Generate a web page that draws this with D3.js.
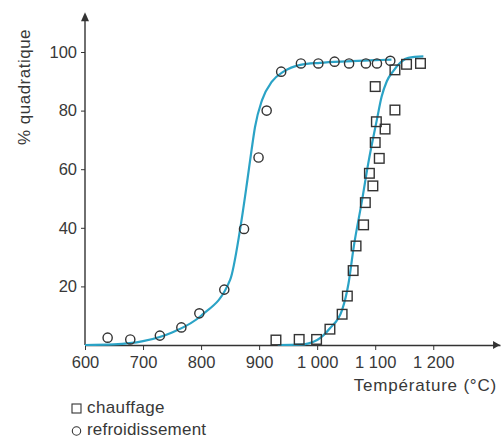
<!doctype html>
<html>
<head>
<meta charset="utf-8">
<style>
  body { margin: 0; background: #fff; }
  svg text { font-family: "Liberation Sans", Arial, sans-serif; fill: #383838; }
</style>
</head>
<body>
<svg width="502" height="441"></svg>
<script src="https://cdn.jsdelivr.net/npm/d3@7"></script>
<script>
// tick values and labels
var xTicks = [600, 700, 800, 900, 1000, 1100, 1200];
var xTickLabels = ["600", "700", "800", "900", "1 000", "1 100", "1 200"];
var yTicks = [20, 40, 60, 80, 100];

// chauffage (squares)
var heatT = [929, 969, 999, 1022, 1043, 1052, 1062, 1067, 1080, 1083, 1090, 1096, 1100, 1107, 1102, 1117, 1100, 1134, 1134, 1154, 1178];
var heatP = [1.7, 1.9, 1.9, 5.4, 10.5, 16.7, 25.4, 33.8, 41, 48.6, 58.6, 54.3, 69.1, 63.7, 76.2, 73.7, 88.2, 80.2, 93.9, 95.8, 96.1];

// refroidissement (circles)
var coolT = [639, 678, 729, 766, 797, 840, 874, 899, 913, 938, 972, 1002, 1030, 1055, 1084, 1103, 1126];
var coolP = [2.5, 1.9, 3.2, 6.0, 10.8, 18.9, 39.6, 64, 80, 93.3, 96.1, 96.1, 96.7, 96.1, 96.1, 96.1, 97];

// fitted curves
var coolCurveT = [600, 650, 700, 750, 800, 850, 867, 879, 887, 893, 905, 922, 942, 971, 1005, 1050, 1100, 1128];
var coolCurveP = [0, 0.2, 1.3, 4.3, 10, 22.2, 39.2, 55.2, 66.6, 74.5, 83.6, 89.9, 93.3, 95.6, 96.3, 96.8, 97.2, 97.4];
var heatCurveT = [932, 970, 1000, 1022, 1043, 1054, 1063, 1077, 1088, 1103, 1111, 1120, 1131, 1157, 1183];
var heatCurveP = [0, 0.1, 1.7, 5.7, 12, 21, 33.5, 49, 62, 77, 84.7, 90, 93.5, 98, 98.5];

var svg = d3.select("svg");

var x = d3.scaleLinear().domain([600, 1315]).range([85, 500]);
var y = d3.scaleLinear().domain([0, 100]).range([345, 52]);

var blue = "#2ba3c6";
var ink = "#333";

// axes
svg.append("g")
    .attr("transform", "translate(0," + y(0) + ")")
    .call(d3.axisBottom(x).tickValues(xTicks).tickSize(5).tickSizeOuter(0)
      .tickFormat(function(d, i) { return xTickLabels[i]; }))
    .call(function(g) {
      g.select(".domain").attr("stroke", ink).attr("stroke-width", 1.4);
      g.selectAll(".tick line").attr("stroke", ink);
      g.selectAll(".tick text").attr("y", 8).attr("dy", "0.9em")
        .style("font-size", "16.5px").attr("fill", null);
    });

svg.append("g")
    .attr("transform", "translate(" + x(600) + ",0)")
    .call(d3.axisLeft(y).tickValues(yTicks).tickSize(4).tickSizeOuter(0))
    .call(function(g) {
      g.select(".domain").remove();
      g.selectAll(".tick line").attr("stroke", ink);
      g.selectAll(".tick text").attr("x", -8).style("font-size", "16.5px").attr("fill", null);
    });

svg.append("line")
    .attr("x1", x(600)).attr("x2", x(600))
    .attr("y1", y(0)).attr("y2", y(111))
    .attr("stroke", ink).attr("stroke-width", 1.4);

// arrow heads
svg.append("path")
    .attr("d", d3.line()([[x(600) - 4, y(110.5)], [x(600), y(113.6)], [x(600) + 4, y(110.5)]]) + "Z")
    .attr("fill", ink);
svg.append("path")
    .attr("d", d3.line()([[x(1303), y(0) - 4], [x(1315), y(0)], [x(1303), y(0) + 4]]) + "Z")
    .attr("fill", ink);

// axis titles
svg.append("text")
    .attr("transform", "translate(30,87) rotate(-90)")
    .attr("text-anchor", "middle")
    .style("font-size", "17px")
    .style("letter-spacing", "0.5px")
    .text("% quadratique");

svg.append("text")
    .attr("x", 497).attr("y", 391)
    .attr("text-anchor", "end")
    .style("font-size", "17px")
    .style("letter-spacing", "0.8px")
    .text("Température (°C)");

// curves
var line = d3.line()
    .x(function(d) { return x(d[0]); })
    .y(function(d) { return y(d[1]); })
    .curve(d3.curveMonotoneX);

svg.append("path")
    .attr("d", line(d3.zip(coolCurveT, coolCurveP)))
    .attr("fill", "none").attr("stroke", blue).attr("stroke-width", 2.2);
svg.append("path")
    .attr("d", line(d3.zip(heatCurveT, heatCurveP)))
    .attr("fill", "none").attr("stroke", blue).attr("stroke-width", 2.2);

// markers
svg.selectAll(".cool")
    .data(d3.zip(coolT, coolP))
  .enter().append("circle")
    .attr("cx", function(d) { return x(d[0]); })
    .attr("cy", function(d) { return y(d[1]); })
    .attr("r", 4.6)
    .attr("fill", "none").attr("stroke", ink).attr("stroke-width", 1.4);

svg.selectAll(".heat")
    .data(d3.zip(heatT, heatP))
  .enter().append("rect")
    .attr("x", function(d) { return x(d[0]) - 4.8; })
    .attr("y", function(d) { return y(d[1]) - 4.8; })
    .attr("width", 9.6).attr("height", 9.6)
    .attr("fill", "none").attr("stroke", ink).attr("stroke-width", 1.4);

// legend
svg.append("rect")
    .attr("x", 72).attr("y", 404).attr("width", 9).attr("height", 9)
    .attr("fill", "none").attr("stroke", ink).attr("stroke-width", 1.1);
svg.append("text").attr("x", 87).attr("y", 413)
    .style("font-size", "17px").style("letter-spacing", "0.4px").text("chauffage");
svg.append("circle")
    .attr("cx", 76.5).attr("cy", 431).attr("r", 4.2)
    .attr("fill", "none").attr("stroke", ink).attr("stroke-width", 1.1);
svg.append("text").attr("x", 87).attr("y", 435)
    .style("font-size", "17px").style("letter-spacing", "0.2px").text("refroidissement");
</script>
</body>
</html>
